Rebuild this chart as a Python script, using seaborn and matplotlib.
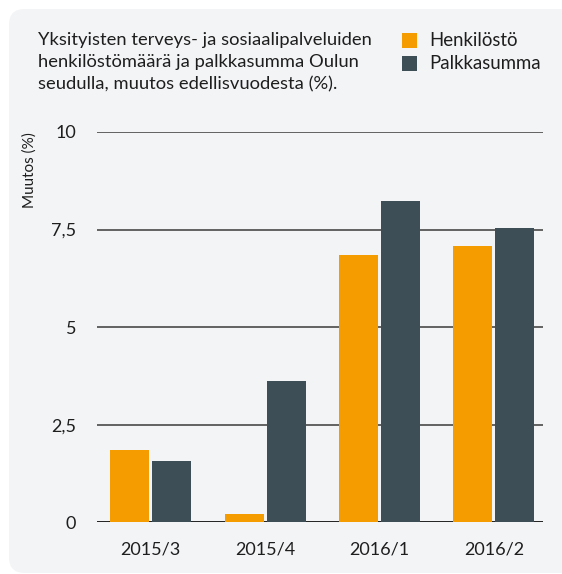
import matplotlib
matplotlib.use("Agg")
import matplotlib.pyplot as plt
from matplotlib.patches import FancyBboxPatch, Rectangle
import seaborn as sns
import pandas as pd

# Quarterly change from previous year (%)
quarters = ["2015/3", "2015/4", "2016/1", "2016/2"]
henkilosto = [1.84, 0.21, 6.86, 7.07]
palkkasumma = [1.56, 3.61, 8.22, 7.53]
series_names = ["Henkilöstö", "Palkkasumma"]
yticks = [0, 2.5, 5, 7.5, 10]
ytick_labels = ["0", "2,5", "5", "7,5", "10"]

title = ("Yksityisten terveys- ja sosiaalipalveluiden\n"
         "henkilöstömäärä ja palkkasumma Oulun\n"
         "seudulla, muutos edellisvuodesta (%).")
ylabel = "Muutos (%)"

colors = ["#F59D00", "#3E4E56"]
text_color = "#1E1E1E"
panel_color = "#F3F4F6"

df = pd.DataFrame({
    "quarter": quarters * 2,
    "value": henkilosto + palkkasumma,
    "series": [series_names[0]] * len(quarters) + [series_names[1]] * len(quarters),
})

sns.set_theme(style="white")
plt.rcParams["font.family"] = ["Lato", "DejaVu Sans"]

W, H = 562, 574
fig = plt.figure(figsize=(W / 100, H / 100), dpi=100)
fig.patch.set_facecolor("white")

# Rounded background panel
panel = FancyBboxPatch((9 / W, 1 / H), (W + 20 - 9) / W, (H - 9) / H - 1 / H,
                       boxstyle="round,pad=0,rounding_size=0.028",
                       transform=fig.transFigure, facecolor=panel_color,
                       edgecolor="none", zorder=-10, mutation_aspect=W / H)
fig.patches.append(panel)

ax = fig.add_axes([97 / W, (H - 522.3) / H, (543 - 97) / W, (522.3 - 132) / H])
ax.set_facecolor("none")
ax.set_zorder(5)

sns.barplot(data=df, x="quarter", y="value", hue="series", order=quarters,
            hue_order=series_names, palette=colors, width=0.735, gap=0.07,
            saturation=1, legend=False, ax=ax, zorder=3, linewidth=0)

ax.set_ylim(0, 10)
ax.set_xlim(-0.47, 3.43)
ax.set_yticks(yticks)
ax.set_yticklabels(ytick_labels)
for y in yticks:
    ax.axhline(y, color="#222222" if y == 0 else "#3A3A3A",
               lw=1.4 if y == 0 else 1.1, zorder=2)
for s in ax.spines.values():
    s.set_visible(False)
ax.tick_params(axis="y", length=0, pad=15, labelsize=13, labelcolor=text_color)
ax.tick_params(axis="x", length=0, pad=14, labelsize=13, labelcolor=text_color)
ax.set_xlabel("")
ax.set_ylabel("")

fig.text(38 / W, 1 - 32 / H, title, ha="left", va="top", fontsize=13.2,
         color=text_color, linespacing=1.48)
fig.text(30 / W, 1 - 132 / H, ylabel, rotation=90, ha="center", va="top",
         fontsize=11, color=text_color)

# Legend
for i, (name, c) in enumerate(zip(series_names, colors)):
    y0 = 33 + i * 23
    fig.patches.append(Rectangle((402 / W, 1 - (y0 + 14.5) / H), 15 / W, 14.5 / H,
                                 transform=fig.transFigure, facecolor=c,
                                 edgecolor="none", zorder=1))
    fig.text(429 / W, 1 - (y0 + 7.5) / H, name, ha="left", va="center",
             fontsize=13.4, color=text_color)

fig.savefig("out.png", dpi=100, facecolor="white")
